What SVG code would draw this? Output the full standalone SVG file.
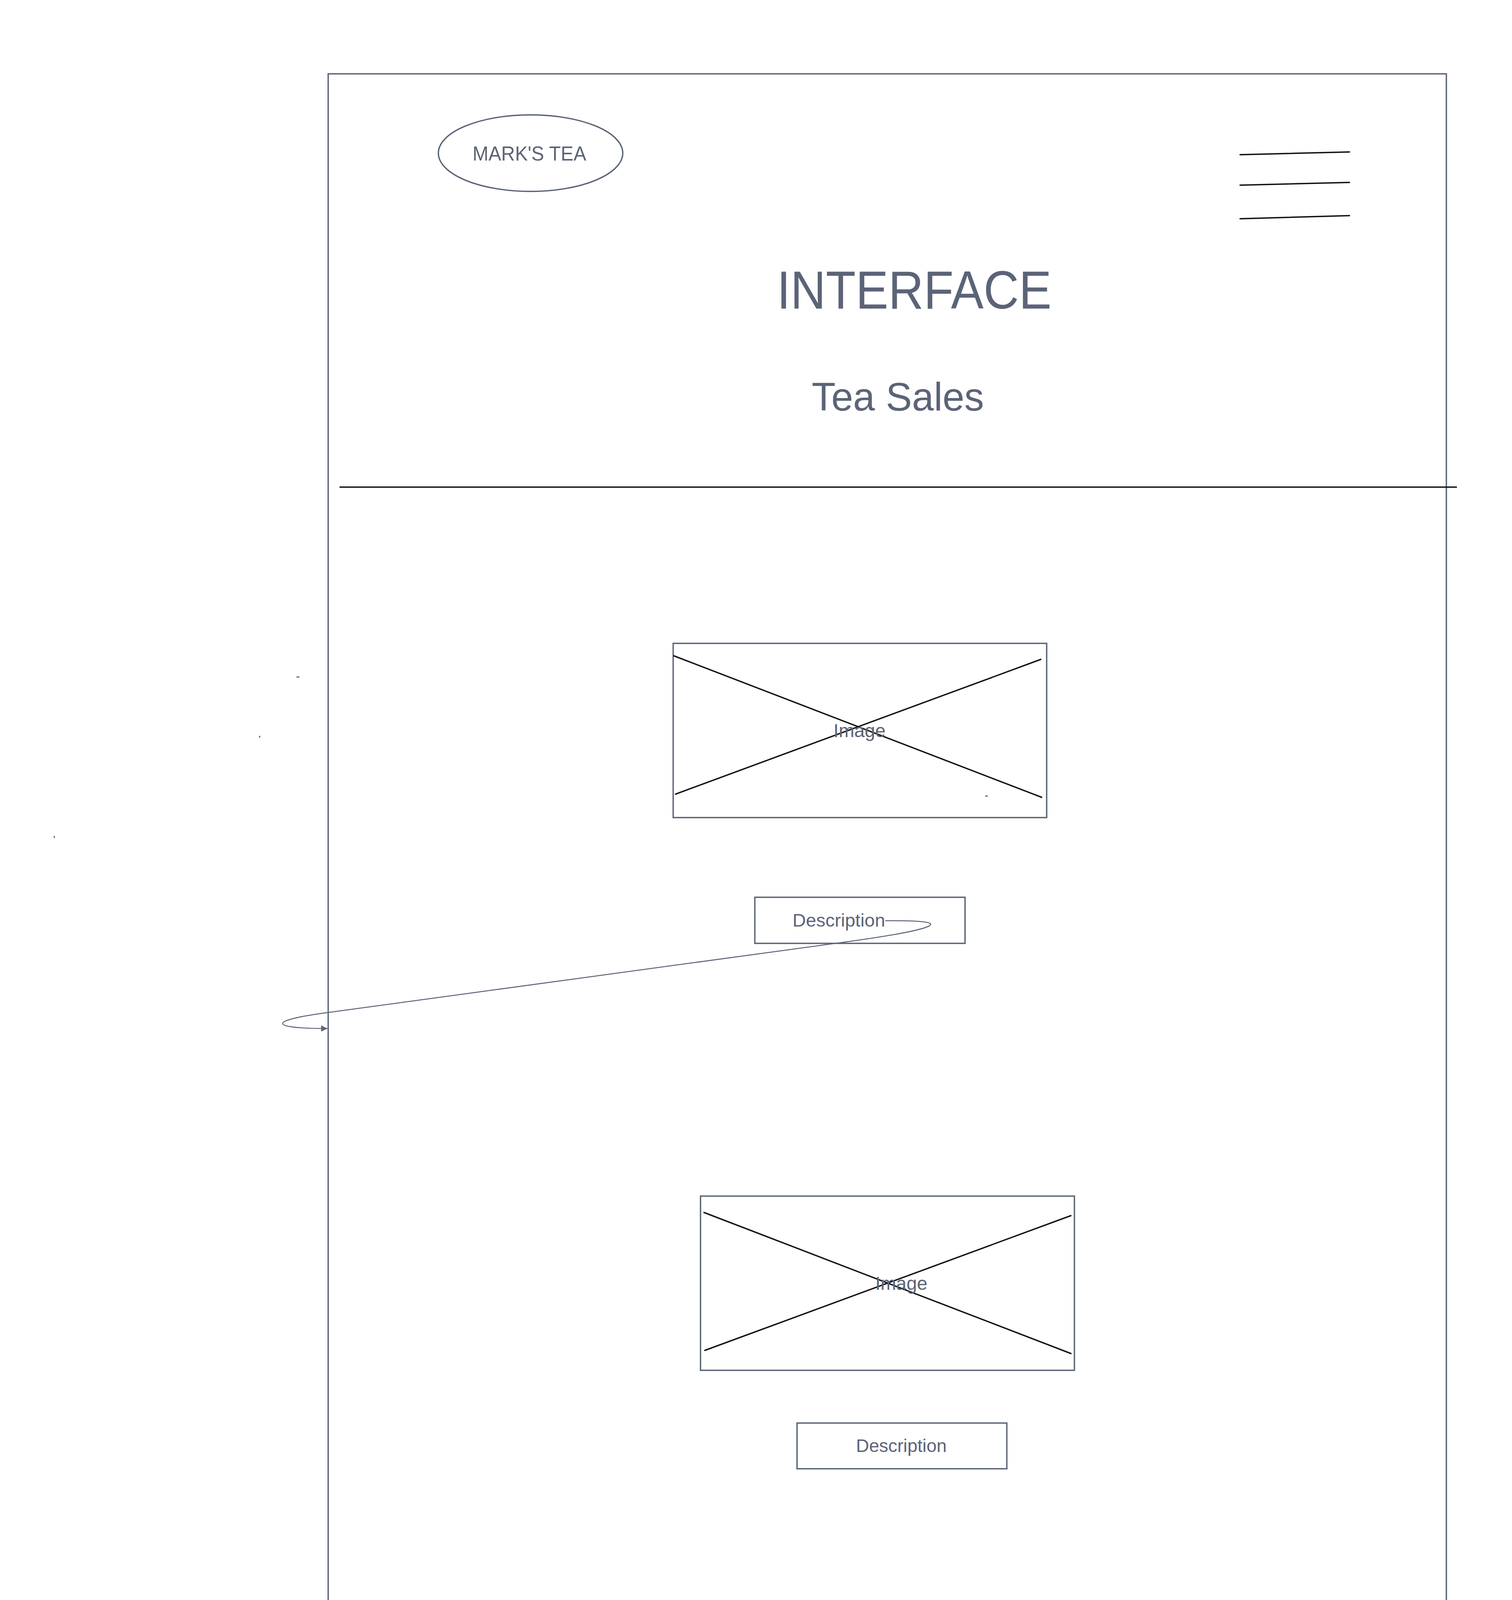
<svg xmlns="http://www.w3.org/2000/svg" width="3870" height="5265" viewBox="0 0 3870 5265">
<style>
.frame{fill:none;stroke:#5b6477;stroke-width:3.5}
.box{fill:none;stroke:#5b6477;stroke-width:3.5}
.ink{stroke:#111111;stroke-width:3.5;stroke-linecap:round;fill:none}
.txt{font-family:"Liberation Sans",Arial,sans-serif;fill:#5b6477;text-anchor:middle}
.conn{fill:none;stroke:#5b6477;stroke-width:2.5}
.dot{stroke:#5b6477;stroke-width:3;stroke-linecap:round}
</style>
<defs>
<marker id="arrow" viewBox="0 0 10 10" refX="10" refY="5" markerWidth="16" markerHeight="18" markerUnits="userSpaceOnUse" orient="auto">
<path d="M0,0 L10,5 L0,10 Z" fill="#5b6477"/>
</marker>
</defs>
<rect width="3870" height="5265" fill="#ffffff"/>
<g id="page-frame">
<rect class="frame" x="840" y="189" width="2862" height="4885"/>
</g>
<g id="logo">
<ellipse class="box" cx="1358" cy="392" rx="236" ry="98"/>
<text class="txt" x="1355" y="411" font-size="52" textLength="291" lengthAdjust="spacingAndGlyphs">MARK'S TEA</text>
</g>
<g id="menu-icon">
<line class="ink" x1="3174" y1="396" x2="3454" y2="389"/>
<line class="ink" x1="3174" y1="474" x2="3454" y2="467"/>
<line class="ink" x1="3174" y1="560" x2="3454" y2="552"/>
</g>
<g id="title">
<text class="txt" x="2340" y="790" font-size="137" textLength="703" lengthAdjust="spacingAndGlyphs">INTERFACE</text>
</g>
<g id="subtitle">
<text class="txt" x="2298" y="1051" font-size="102" textLength="441" lengthAdjust="spacingAndGlyphs">Tea Sales</text>
</g>
<g id="header-divider">
<line x1="869" y1="1247" x2="3729" y2="1247" stroke="#111111" stroke-width="3.5"/>
</g>
<g id="image-1">
<rect class="box" x="1723" y="1647" width="956" height="446"/>
<line class="ink" x1="1725" y1="1679" x2="2666" y2="2041"/>
<line class="ink" x1="1729" y1="2033" x2="2664" y2="1688"/>
<text class="txt" x="2200" y="1887" font-size="48">Image</text>
</g>
<g id="description-1">
<rect class="box" x="1932" y="2297" width="538" height="118"/>
<text class="txt" x="2147" y="2372" font-size="46" textLength="237" lengthAdjust="spacingAndGlyphs">Description</text>
</g>
<g id="image-2">
<rect class="box" x="1793" y="3062" width="957" height="446"/>
<line class="ink" x1="1802" y1="3104" x2="2741" y2="3465"/>
<line class="ink" x1="1804" y1="3457" x2="2741" y2="3112"/>
<text class="txt" x="2307" y="3302" font-size="48">Image</text>
</g>
<g id="description-2">
<rect class="box" x="2040" y="3643" width="537" height="117"/>
<text class="txt" x="2307" y="3717" font-size="46" textLength="232" lengthAdjust="spacingAndGlyphs">Description</text>
</g>
<g id="footer-divider">
<line x1="919" y1="4321" x2="3702" y2="4319" stroke="#5b6477" stroke-width="3.5"/>
</g>
<g id="about-us">
<rect class="box" x="1881" y="4381" width="853" height="114"/>
<text class="txt" x="2309" y="4460" font-size="62" textLength="264" lengthAdjust="spacingAndGlyphs">About Us</text>
</g>
<g id="description-3">
<rect class="box" x="2000" y="4589" width="545" height="83"/>
<text class="txt" x="2271" y="4651" font-size="64" textLength="333" lengthAdjust="spacingAndGlyphs">Description</text>
</g>
<g id="made-by">
<rect class="box" x="1898" y="4771" width="746" height="117"/>
<text class="txt" x="2271" y="4875" font-size="54" textLength="428" lengthAdjust="spacingAndGlyphs">Made by Shimark</text>
</g>
<g id="specks">
<line class="dot" x1="760" y1="1733" x2="765" y2="1733"/>
<line class="dot" x1="664" y1="1885" x2="665" y2="1887"/>
<line class="dot" x1="139" y1="2141" x2="139" y2="2144"/>
<line class="dot" x1="2523" y1="2038" x2="2527" y2="2038"/>
</g>
<g id="connectors">
<path class="conn" d="M2266,2357 C2460,2355 2403,2379 2153,2413 L840,2592 C680,2613 690,2633 838,2633" marker-end="url(#arrow)"/>
</g>
</svg>
